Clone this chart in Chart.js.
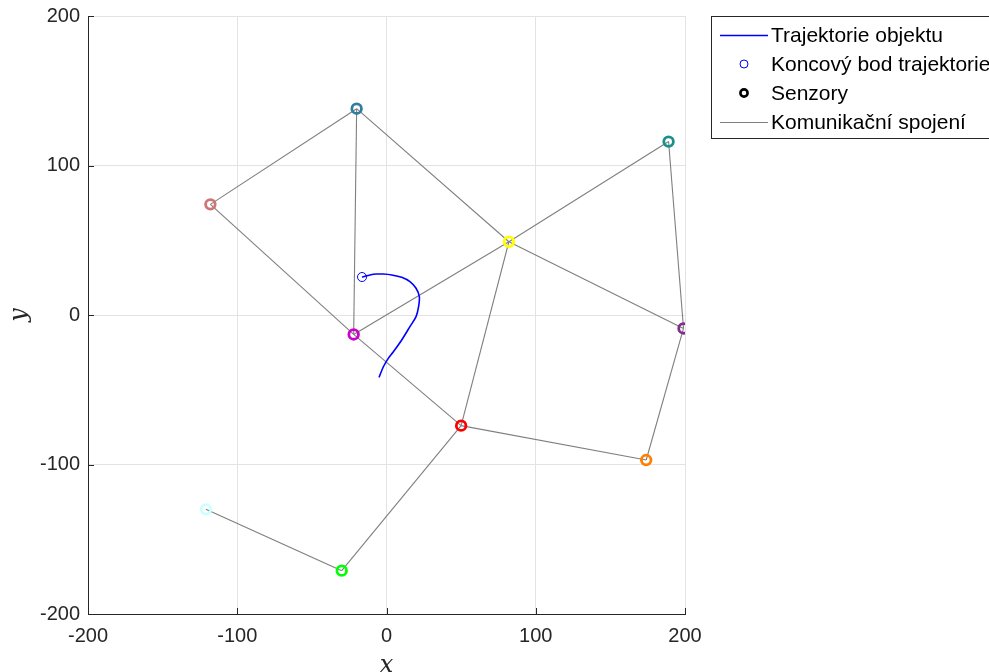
<!DOCTYPE html>
<html>
<head>
<meta charset="utf-8">
<script src="https://cdn.jsdelivr.net/npm/chart.js@4.4.1/dist/chart.umd.min.js"></script>
<style>
  html, body { margin: 0; padding: 0; background: #ffffff; }
  #wrap { width: 989px; height: 672px; position: relative; }
</style>
</head>
<body>
<div id="wrap"><canvas id="c" width="989" height="672"></canvas></div>
<script>
// Sensor positions and colours
const sensorX = [-20, -118, 189, 82, -22, 199, 50, 174, -121, -30];
const sensorY = [138, 74, 116, 49, -13, -9, -74, -97, -130, -171];
const sensorColors = ['#2f7f9c', '#d07474', '#19908c', '#ffff00', '#cc00cc',
                      '#7e2f8e', '#ff0000', '#ff8000', '#ccffff', '#00ff00'];

// Communication links, as pairs of sensor indices
const links = [[0, 1], [0, 4], [0, 3], [3, 5], [1, 4], [4, 6], [4, 3], [3, 2],
               [2, 5], [3, 6], [6, 7], [7, 5], [6, 9], [9, 8]];

// Object trajectory (start at bottom, end at the marker)
const trajX = [-5.0, -2.1, 1.2, 4.6, 10.2, 15.7, 19.8, 21.5, 22.0, 19.8, 15.7, 10.2, 3.5, -2.1, -6.6, -11.1, -15.5, -16.4];
const trajY = [-41.7, -34.6, -29.0, -24.6, -16.7, -7.8, -1.1, 5.6, 12.3, 17.9, 22.3, 25.2, 26.8, 27.4, 27.4, 26.8, 25.6, 25.4];

// Axis ticks
const tickValues = [-200, -100, 0, 100, 200];

// Legend texts
const legendLabels = ['Trajektorie objektu', 'Koncový bod trajektorie', 'Senzory', 'Komunikační spojení'];

const AX = '#262626';
const GRID = '#e3e3e3';
const LINK = '#7f7f7f';

const datasets = [];
datasets.push({
  label: legendLabels[1],
  data: [{ x: trajX[trajX.length - 1], y: trajY[trajY.length - 1] }],
  showLine: false, pointRadius: 4.5, pointBorderWidth: 1,
  pointBorderColor: '#0000ff', pointBackgroundColor: 'rgba(0,0,0,0)', order: 0
});
datasets.push({
  label: legendLabels[0],
  data: trajX.map((x, i) => ({ x, y: trajY[i] })),
  showLine: true, borderColor: '#0000ff', borderWidth: 1.6, pointRadius: 0,
  tension: 0.3, order: 1
});
datasets.push({
  label: legendLabels[2],
  data: sensorX.map((x, i) => ({ x, y: sensorY[i] })),
  showLine: false, pointRadius: 4.8, pointBorderWidth: 2.8,
  pointBorderColor: sensorColors, pointBackgroundColor: 'rgba(0,0,0,0)', order: 2
});
links.forEach(([a, b]) => {
  datasets.push({
    label: legendLabels[3],
    data: [{ x: sensorX[a], y: sensorY[a] }, { x: sensorX[b], y: sensorY[b] }],
    showLine: true, borderColor: LINK, borderWidth: 1.1, pointRadius: 0, order: 3
  });
});

// Legend, axis titles and inward ticks drawn on the canvas
const decorations = {
  id: 'decorations',
  afterDraw(chart) {
    const ctx = chart.ctx;
    const xs = chart.scales.x, ys = chart.scales.y;
    const area = chart.chartArea;
    ctx.save();
    // inward tick marks
    ctx.strokeStyle = AX; ctx.lineWidth = 1;
    tickValues.forEach(v => {
      const px = Math.round(xs.getPixelForValue(v)) + 0.5;
      ctx.beginPath(); ctx.moveTo(px, area.bottom); ctx.lineTo(px, area.bottom - 6); ctx.stroke();
      const py = Math.round(ys.getPixelForValue(v)) + 0.5;
      ctx.beginPath(); ctx.moveTo(area.left, py); ctx.lineTo(area.left + 6, py); ctx.stroke();
    });
    // axis titles
    ctx.fillStyle = AX;
    ctx.font = 'italic 24px "DejaVu Serif", "Liberation Serif", serif';
    ctx.textAlign = 'center'; ctx.textBaseline = 'middle';
    ctx.fillText('x', (area.left + area.right) / 2, 666);
    ctx.save();
    ctx.translate(20, (area.top + area.bottom) / 2);
    ctx.rotate(-Math.PI / 2);
    ctx.fillText('y', 0, 0);
    ctx.restore();

    // legend box
    const bx = 711.5, by = 16.5, bw = 300, bh = 122;
    ctx.fillStyle = '#ffffff';
    ctx.fillRect(bx, by, bw, bh);
    ctx.strokeStyle = AX; ctx.lineWidth = 1;
    ctx.strokeRect(bx, by, bw, bh);
    const rows = [35, 64, 93, 122];
    ctx.font = '21px "Liberation Sans", Arial, sans-serif';
    ctx.textAlign = 'left'; ctx.textBaseline = 'middle';
    rows.forEach((ry, i) => {
      if (i === 0 || i === 3) {
        ctx.strokeStyle = i === 0 ? '#0000ff' : LINK;
        ctx.lineWidth = i === 0 ? 1.6 : 1;
        ctx.beginPath(); ctx.moveTo(720, ry + 0.5); ctx.lineTo(768, ry + 0.5); ctx.stroke();
      } else if (i === 1) {
        ctx.strokeStyle = '#0000ff'; ctx.lineWidth = 1;
        ctx.beginPath(); ctx.arc(744, ry, 4, 0, Math.PI * 2); ctx.stroke();
      } else {
        ctx.strokeStyle = '#000000'; ctx.lineWidth = 2.6;
        ctx.beginPath(); ctx.arc(744, ry, 3.6, 0, Math.PI * 2); ctx.stroke();
      }
      ctx.fillStyle = '#000000';
      ctx.fillText(legendLabels[i], 771, ry + 1);
    });
    ctx.restore();
  }
};

new Chart(document.getElementById('c'), {
  type: 'scatter',
  data: { datasets },
  options: {
    responsive: false,
    animation: false,
    layout: { padding: { left: 0, top: 16, right: 304, bottom: 0 } },
    plugins: { legend: { display: false }, tooltip: { enabled: false } },
    scales: {
      x: {
        type: 'linear', min: -200, max: 200,
        afterBuildTicks(s) { s.ticks = tickValues.map(v => ({ value: v })); },
        afterFit(s) { s.height = 58; s.paddingLeft = 0; s.paddingRight = 0; },
        grid: { color: GRID, drawTicks: false, lineWidth: 1 },
        border: { color: AX, width: 1 },
        ticks: { color: AX, padding: 10, font: { size: 20, family: '"Liberation Sans", Arial, sans-serif' }, maxRotation: 0 }
      },
      y: {
        type: 'linear', min: -200, max: 200,
        afterBuildTicks(s) { s.ticks = tickValues.map(v => ({ value: v })); },
        afterFit(s) { s.width = 88; s.paddingTop = 0; s.paddingBottom = 0; },
        grid: { color: GRID, drawTicks: false, lineWidth: 1 },
        border: { color: AX, width: 1 },
        ticks: { color: AX, padding: 8, font: { size: 20, family: '"Liberation Sans", Arial, sans-serif' } }
      }
    }
  },
  plugins: [decorations]
});
</script>
</body>
</html>
